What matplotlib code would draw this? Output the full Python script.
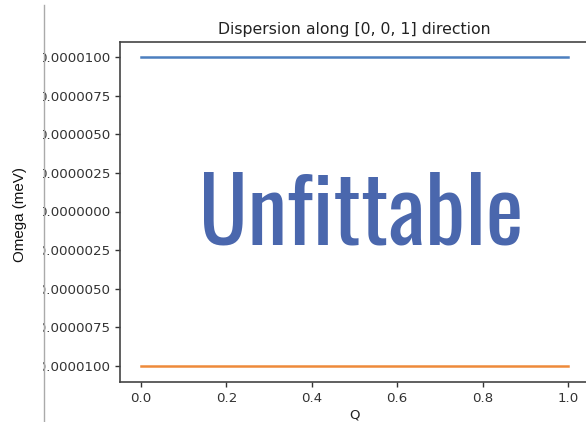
import numpy as np
import matplotlib
matplotlib.use("Agg")
import matplotlib.pyplot as plt
from matplotlib.patches import Rectangle
from matplotlib.lines import Line2D

# data
q = [0.0, 0.2, 0.4, 0.6, 0.8, 1.0]
omega_upper = [1e-5, 1e-5, 1e-5, 1e-5, 1e-5, 1e-5]
omega_lower = [-1e-5, -1e-5, -1e-5, -1e-5, -1e-5, -1e-5]
yticks = [1e-5, 7.5e-6, 5e-6, 2.5e-6, 0.0, -2.5e-6, -5e-6, -7.5e-6, -1e-5]
xticks = [0.0, 0.2, 0.4, 0.6, 0.8, 1.0]

W, H = 586, 422
fig = plt.figure(figsize=(W / 100, H / 100), dpi=100)
ax = fig.add_axes([119.6 / W, 1 - 381.5 / H, (589.3 - 119.6) / W, (381.5 - 41.5) / H])
ax.plot(q, omega_upper, color="#4c7fbf", lw=1.8)
ax.plot(q, omega_lower, color="#ee8a3a", lw=1.8)
ax.set_yticks(yticks)
ax.set_yticklabels(["%.7f" % v for v in yticks])
ax.set_xticks(xticks)
ax.tick_params(labelsize=9.6, colors="#333333", length=3.8, width=1.0)
ax.tick_params(axis="y", pad=2.8)
for s in ax.spines.values():
    s.set_color("#444444")
    s.set_linewidth(1.2)
ax.set_xlabel("Q", fontsize=9.6, color="#222222", labelpad=3)
ax.set_title("Dispersion along [0, 0, 1] direction", fontsize=11.3, color="#222222", pad=5.5)

# white strip hiding the cut-off part of the tick labels + grey divider
fig.patches.append(Rectangle((0, 0), 43 / W, 1, transform=fig.transFigure,
                             facecolor="white", edgecolor="none", zorder=5))
fig.lines.append(Line2D([43.5 / W, 43.5 / W], [0, 1 - 5 / H], transform=fig.transFigure,
                        color="#aaaaaa", lw=1, zorder=6))
fig.text(20 / W, 1 - 215 / H, "Omega (meV)", rotation=90, ha="center", va="center",
         fontsize=10.9, color="#111111",
         family=["Liberation Sans", "Arimo", "DejaVu Sans"], zorder=7)

fig.text(361 / W, 1 - 244.5 / H, "Unfittable", ha="center", va="baseline",
         fontsize=64.5, color="#4a67ad",
         family=["Oswald", "Roboto Condensed", "DejaVu Sans"], zorder=8)

fig.savefig("out.png", dpi=100)
